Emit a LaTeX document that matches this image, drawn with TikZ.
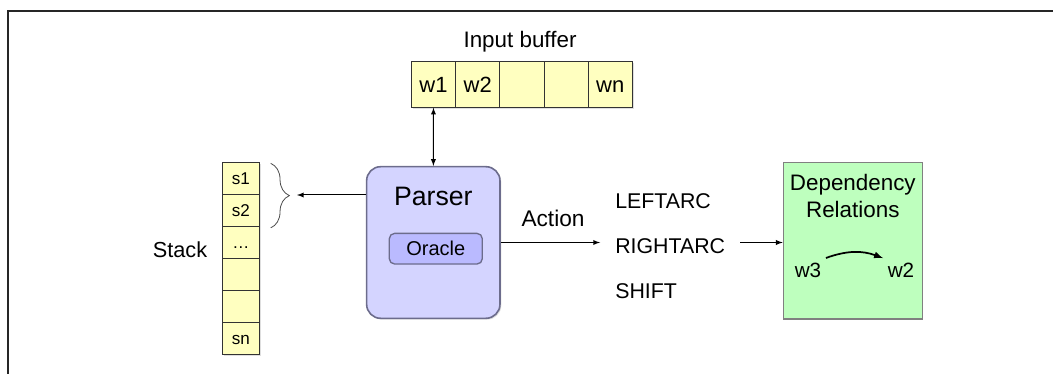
\documentclass[tikz,border=0pt]{standalone}
\usepackage{fontspec}
\setmainfont{Liberation Sans}
\usepackage{xcolor}
\usetikzlibrary{arrows, positioning, calc, shadows, decorations.pathreplacing}

\definecolor{cellyellow}{RGB}{255,255,192}
\definecolor{parserblue}{RGB}{212,212,255}
\definecolor{oracleblue}{RGB}{186,186,255}
\definecolor{edgeblue}{RGB}{108,108,140}
\definecolor{depgreen}{RGB}{190,255,190}

\tikzset{
  cell/.style={draw=black!80, line width=0.6pt, fill=cellyellow, inner sep=0pt, text depth=0pt,
    drop shadow={shadow xshift=1pt, shadow yshift=-1pt, opacity=0.25}},
  lbl/.style={font=\fontsize{16.3}{19}\selectfont},
  actlbl/.style={font=\fontsize{16}{19}\selectfont, anchor=west, inner xsep=11.25pt},
  conn/.style={-latex, line width=0.75pt}
}

\begin{document}
\begin{tikzpicture}[x=0.75pt, y=-0.75pt]
\useasboundingbox (0,0) rectangle (1053,374);
% Frame
\draw[line width=1.5pt, black!85] (7.5,374) -- (7.5,11) -- (1053,11);

% Input buffer
\node[lbl, font=\fontsize{16.8}{19}\selectfont] (buflbl) at (520,42) {Input buffer};
\foreach \w [count=\i] in {w1,w2,{},{},wn} {
    \node[cell, minimum width=33.15pt, minimum height=34.2pt, text height=11.8pt, font=\fontsize{16.5}{19}\selectfont] (b\i) at ({433.5+44.2*(\i-1)},84.5) {\w};
}

% Stack
\foreach \s [count=\i] in {s1,s2,{\ldots},{},{},sn} {
    \node[cell, minimum width=27.75pt, minimum height=24.1pt, text height=9.2pt, font=\fontsize{12.8}{15}\selectfont] (s\i) at (240.8,{178.3+32.1*(\i-1)}) {\s};
}
\node[lbl] (stacklbl) at (180,250) {Stack};
\draw[decorate, decoration={brace, amplitude=14pt}, line width=0.6pt, black!70]
    ($(s1.north east)+(11,1.5)$) -- ($(s2.south east)+(11,1)$);
\coordinate (stktip) at (297,195);

% Parser with oracle
\node[draw=edgeblue, line width=1.2pt, fill=parserblue, rounded corners=10.5pt,
    minimum width=100pt, minimum height=113.7pt,
    drop shadow={shadow xshift=1pt, shadow yshift=-1pt, opacity=0.25}] (parser) at (433.3,242.5) {};
\node[font=\fontsize{20}{24}\selectfont, anchor=base] (parserlbl) at (433.3,205.3) {Parser};
\node[font=\fontsize{15}{18}\selectfont, draw=edgeblue, line width=1pt, fill=oracleblue, rounded corners=4pt,
    minimum width=69.75pt, minimum height=23pt] (oracle) at (435.8,248.7) {Oracle};

\draw[conn, latex-latex] (b1) -- (parser);
\draw[conn] (parser.west |- stktip) -- (stktip);

% Actions
\node[lbl, font=\fontsize{17}{19}\selectfont] (actionlbl) at (553,218.8) {Action};
\node[actlbl] (leftarc) at (600,201.3) {LEFTARC};
\node[actlbl] (rightarc) at (600,245.8) {RIGHTARC};
\node[actlbl] (shiftop) at (600,290.8) {SHIFT};
\draw[conn] (parser.east) -- (parser.east -| rightarc.west);

% Dependency relations
\node[draw=black!50, line width=0.9pt, fill=depgreen, minimum width=104.25pt, minimum height=117.2pt] (dep) at (852.8,240.8) {};
\node[align=center, font=\fontsize{16.8}{20.3}\selectfont] (deplbl) at (852.8,196) {Dependency\\Relations};
\node[font=\fontsize{15.5}{17}\selectfont] (w3) at (808,270) {w3};
\node[font=\fontsize{15.5}{17}\selectfont] (w2) at (901,270) {w2};
\draw[-latex, line width=1.3pt] (w3.north east) to[bend left=20] (w2.north west);
\draw[conn] (rightarc.east |- parser.east) -- (parser.east -| dep.west);
\end{tikzpicture}
\end{document}
